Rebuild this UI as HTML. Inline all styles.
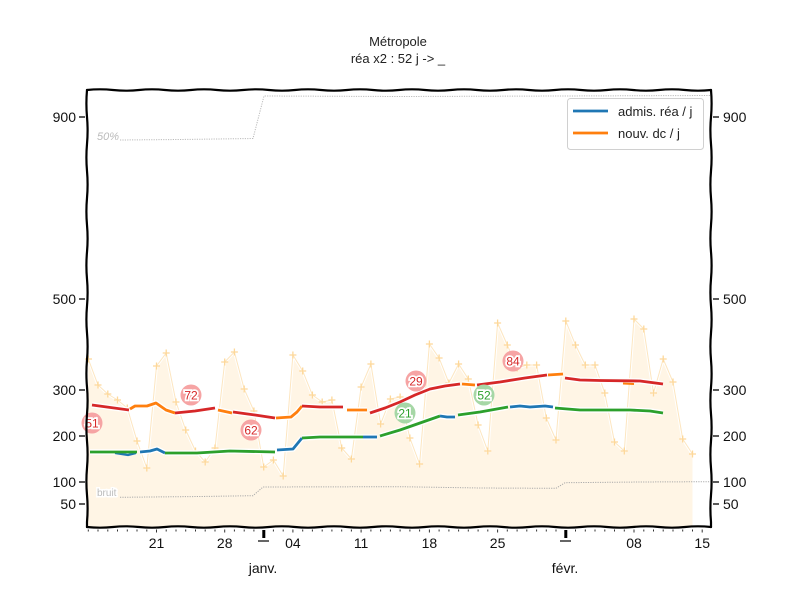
<!DOCTYPE html>
<html><head><meta charset="utf-8"><style>
html,body{margin:0;padding:0;background:#fff;}
svg{display:block;}
.t{font-family:"Liberation Sans",sans-serif;}
</style></head><body>
<svg width="800" height="600" viewBox="0 0 800 600" xmlns="http://www.w3.org/2000/svg">
<rect width="800" height="600" fill="#fff"/>
<!-- title -->
<text x="398" y="46" text-anchor="middle" class="t" font-size="13" fill="#222">Métropole</text>
<text x="398" y="63" text-anchor="middle" class="t" font-size="13" fill="#222">réa x2 : 52 j -&gt; _</text>

<!-- fill -->
<polygon fill="#fff5e5" points="87,527 88.3,359 98.0,385 107.8,394 117.5,400 127.3,408 137.0,441 146.8,468 156.5,366 166.2,353 176.0,402 185.7,430 195.5,451 205.2,462 215.0,448 224.7,362 234.4,352 244.2,389 253.9,411 263.7,467 273.4,460 283.2,476 292.9,355 302.7,371 312.4,395 322.2,402 331.9,400 341.7,448 351.4,459 361.1,387 370.9,364 380.6,424 390.4,399 400.1,397 409.9,438 419.6,464 429.4,344 439.1,358 448.9,383 458.6,364 468.3,379 478.1,425 487.8,451 497.6,323 507.3,345 517.1,368 526.8,365 536.6,365 546.3,418 556.0,440 565.8,321 575.5,345 585.3,365 595.0,365 604.8,393 614.5,442 624.3,451 634.0,319 643.8,329 653.5,393 663.2,359 673.0,382 682.7,439 692.5,454 692.5,527"/>
<polyline fill="none" stroke="#fff" stroke-width="3" stroke-linejoin="round" points="88.3,359 98.0,385 107.8,394 117.5,400 127.3,408 137.0,441 146.8,468 156.5,366 166.2,353 176.0,402 185.7,430 195.5,451 205.2,462 215.0,448 224.7,362 234.4,352 244.2,389 253.9,411 263.7,467 273.4,460 283.2,476 292.9,355 302.7,371 312.4,395 322.2,402 331.9,400 341.7,448 351.4,459 361.1,387 370.9,364 380.6,424 390.4,399 400.1,397 409.9,438 419.6,464 429.4,344 439.1,358 448.9,383 458.6,364 468.3,379 478.1,425 487.8,451 497.6,323 507.3,345 517.1,368 526.8,365 536.6,365 546.3,418 556.0,440 565.8,321 575.5,345 585.3,365 595.0,365 604.8,393 614.5,442 624.3,451 634.0,319 643.8,329 653.5,393 663.2,359 673.0,382 682.7,439 692.5,454"/>
<polyline fill="none" stroke="#fde6c0" stroke-width="1" stroke-linejoin="round" points="88.3,359 98.0,385 107.8,394 117.5,400 127.3,408 137.0,441 146.8,468 156.5,366 166.2,353 176.0,402 185.7,430 195.5,451 205.2,462 215.0,448 224.7,362 234.4,352 244.2,389 253.9,411 263.7,467 273.4,460 283.2,476 292.9,355 302.7,371 312.4,395 322.2,402 331.9,400 341.7,448 351.4,459 361.1,387 370.9,364 380.6,424 390.4,399 400.1,397 409.9,438 419.6,464 429.4,344 439.1,358 448.9,383 458.6,364 468.3,379 478.1,425 487.8,451 497.6,323 507.3,345 517.1,368 526.8,365 536.6,365 546.3,418 556.0,440 565.8,321 575.5,345 585.3,365 595.0,365 604.8,393 614.5,442 624.3,451 634.0,319 643.8,329 653.5,393 663.2,359 673.0,382 682.7,439 692.5,454"/>
<!-- markers -->
<path fill="none" stroke="#fdd89a" stroke-width="1.3" d="M85,359h7M88.3,355.5v7 M94.5,385h7M98,381.5v7 M104.3,394h7M107.8,390.5v7 M114,400h7M117.5,396.5v7 M123.8,408h7M127.3,404.5v7 M133.5,441h7M137,437.5v7 M143.3,468h7M146.8,464.5v7 M153,366h7M156.5,362.5v7 M162.7,353h7M166.2,349.5v7 M172.5,402h7M176,398.5v7 M182.2,430h7M185.7,426.5v7 M192,451h7M195.5,447.5v7 M201.7,462h7M205.2,458.5v7 M211.5,448h7M215,444.5v7 M221.2,362h7M224.7,358.5v7 M230.9,352h7M234.4,348.5v7 M240.7,389h7M244.2,385.5v7 M250.4,411h7M253.9,407.5v7 M260.2,467h7M263.7,463.5v7 M269.9,460h7M273.4,456.5v7 M279.7,476h7M283.2,472.5v7 M289.4,355h7M292.9,351.5v7 M299.2,371h7M302.7,367.5v7 M308.9,395h7M312.4,391.5v7 M318.7,402h7M322.2,398.5v7 M328.4,400h7M331.9,396.5v7 M338.2,448h7M341.7,444.5v7 M347.9,459h7M351.4,455.5v7 M357.6,387h7M361.1,383.5v7 M367.4,364h7M370.9,360.5v7 M377.1,424h7M380.6,420.5v7 M386.9,399h7M390.4,395.5v7 M396.6,397h7M400.1,393.5v7 M406.4,438h7M409.9,434.5v7 M416.1,464h7M419.6,460.5v7 M425.9,344h7M429.4,340.5v7 M435.6,358h7M439.1,354.5v7 M445.4,383h7M448.9,379.5v7 M455.1,364h7M458.6,360.5v7 M464.8,379h7M468.3,375.5v7 M474.6,425h7M478.1,421.5v7 M484.3,451h7M487.8,447.5v7 M494.1,323h7M497.6,319.5v7 M503.8,345h7M507.3,341.5v7 M513.6,368h7M517.1,364.5v7 M523.3,365h7M526.8,361.5v7 M533.1,365h7M536.6,361.5v7 M542.8,418h7M546.3,414.5v7 M552.5,440h7M556,436.5v7 M562.3,321h7M565.8,317.5v7 M572,345h7M575.5,341.5v7 M581.8,365h7M585.3,361.5v7 M591.5,365h7M595,361.5v7 M601.3,393h7M604.8,389.5v7 M611,442h7M614.5,438.5v7 M620.8,451h7M624.3,447.5v7 M630.5,319h7M634,315.5v7 M640.3,329h7M643.8,325.5v7 M650,393h7M653.5,389.5v7 M659.7,359h7M663.2,355.5v7 M669.5,382h7M673,378.5v7 M679.2,439h7M682.7,435.5v7 M689,454h7M692.5,450.5v7"/>

<!-- 50% and bruit lines -->
<polyline fill="none" stroke="#bbb" stroke-width="1" stroke-dasharray="1.2,1.2" points="120,140 180,139.5 253,138.5 264,96 400,96.5 560,96 711,95.5"/>
<text x="97" y="140" class="t" font-size="11" fill="#bbb" font-style="italic">50%</text>
<polyline fill="none" stroke="#aaa" stroke-width="1" stroke-dasharray="1.2,1.2" points="120,497.3 200,496.5 253,495.7 263,487 400,486.7 480,488 556,488.3 565,482.7 640,482 711,481.7"/>
<text x="97" y="496" class="t" font-size="10" fill="#bbb" stroke="#fff" stroke-width="3" paint-order="stroke">bruit</text>

<!-- top line (red / orange) -->
<g fill="none" stroke-linejoin="round" stroke-linecap="butt">
<g stroke="#fff" stroke-width="5.5">
<polyline points="92,405 129,410"/>
<polyline points="130,409 135,406 147,406 156,403 166,410 175,413"/>
<polyline points="175,413 195,411 215,408"/>
<polyline points="218,410 232,413"/>
<polyline points="233,412 255,415 275,418"/>
<polyline points="276,418 291,417 297,412 302,406"/>
<polyline points="302,406 320,407 343,407"/>
<polyline points="347,410 367,410"/>
<polyline points="370,413 385,408 400,402 415,395 430,389 445,386 460,384"/>
<polyline points="462,384 475,385"/>
<polyline points="477,385 500,382 525,378 547,375"/>
<polyline points="548,375 563,374"/>
<polyline points="565,378 580,380 600,380.5 640,381 663,384"/>
<polyline points="90,452 137,452"/>
<polyline points="140,452 150,451 157,449 165,453"/>
<polyline points="165,453 197,453 230,451 275,452"/>
<polyline points="277,450 293,449 302,438"/>
<polyline points="302,438 320,437 363,437"/>
<polyline points="363,437 377,437"/>
<polyline points="380,436 400,430 420,423 440,416"/>
<polyline points="440,416 447,417 455,417"/>
<polyline points="458,415 480,412 508,407"/>
<polyline points="510,407 520,406 530,407 545,406 553,407"/>
<polyline points="555,408 580,410 600,410 630,410 650,411 663,413"/>
</g>
<g stroke-width="2.8">
<polyline stroke="#d62728" points="92,405 129,410"/>
<polyline stroke="#ff7f0e" points="130,409 135,406 147,406 156,403 166,410 175,413"/>
<polyline stroke="#d62728" points="175,413 195,411 215,408"/>
<polyline stroke="#ff7f0e" points="218,410 232,413"/>
<polyline stroke="#d62728" points="233,412 255,415 275,418"/>
<polyline stroke="#ff7f0e" points="276,418 291,417 297,412 302,406"/>
<polyline stroke="#d62728" points="302,406 320,407 343,407"/>
<polyline stroke="#ff7f0e" points="347,410 367,410"/>
<polyline stroke="#d62728" points="370,413 385,408 400,402 415,395 430,389 445,386 460,384"/>
<polyline stroke="#ff7f0e" points="462,384 475,385"/>
<polyline stroke="#d62728" points="477,385 500,382 525,378 547,375"/>
<polyline stroke="#ff7f0e" points="548,375 563,374"/>
<polyline stroke="#ff7f0e" stroke-width="2" points="623,383.5 634,384"/>
<polyline stroke="#d62728" points="565,378 580,380 600,380.5 640,381 663,384"/>
<polyline stroke="#1f77b4" stroke-width="2.2" points="115,453 128,455 136,453"/>
<polyline stroke="#2ca02c" points="90,452 137,452"/>
<polyline stroke="#1f77b4" points="140,452 150,451 157,449 165,453"/>
<polyline stroke="#2ca02c" points="165,453 197,453 230,451 275,452"/>
<polyline stroke="#1f77b4" points="277,450 293,449 302,438"/>
<polyline stroke="#2ca02c" points="302,438 320,437 363,437"/>
<polyline stroke="#1f77b4" points="363,437 377,437"/>
<polyline stroke="#2ca02c" points="380,436 400,430 420,423 440,416"/>
<polyline stroke="#1f77b4" points="440,416 447,417 455,417"/>
<polyline stroke="#2ca02c" points="458,415 480,412 508,407"/>
<polyline stroke="#1f77b4" points="510,407 520,406 530,407 545,406 553,407"/>
<polyline stroke="#2ca02c" points="555,408 580,410 600,410 630,410 650,411 663,413"/>
</g>
</g>

<!-- annotation circles -->
<g class="t" font-size="12" text-anchor="middle">
<circle cx="92" cy="423" r="10.5" fill="#f6a4a4"/>
<text x="92" y="427.5" fill="#d62728" stroke="#fff" stroke-width="3.5" paint-order="stroke">51</text>
<circle cx="191" cy="395" r="10.5" fill="#f6a4a4"/>
<text x="191" y="399.5" fill="#d62728" stroke="#fff" stroke-width="3.5" paint-order="stroke">72</text>
<circle cx="251" cy="430" r="10.5" fill="#f6a4a4"/>
<text x="251" y="434.5" fill="#d62728" stroke="#fff" stroke-width="3.5" paint-order="stroke">62</text>
<circle cx="416" cy="381" r="10.5" fill="#f6a4a4"/>
<text x="416" y="385.5" fill="#d62728" stroke="#fff" stroke-width="3.5" paint-order="stroke">29</text>
<circle cx="405" cy="413" r="10.5" fill="#a6d7a6"/>
<text x="405" y="417.5" fill="#2ca02c" stroke="#fff" stroke-width="3.5" paint-order="stroke">21</text>
<circle cx="484" cy="395" r="10.5" fill="#a6d7a6"/>
<text x="484" y="399.5" fill="#2ca02c" stroke="#fff" stroke-width="3.5" paint-order="stroke">52</text>
<circle cx="513" cy="361" r="10.5" fill="#f6a4a4"/>
<text x="513" y="365.5" fill="#d62728" stroke="#fff" stroke-width="3.5" paint-order="stroke">84</text>
</g>

<!-- legend -->
<rect x="567.5" y="98.5" width="136" height="51" rx="3" fill="#fff" fill-opacity="0.85" stroke="#d0d0d0" stroke-width="1"/>
<line x1="573" y1="111" x2="608" y2="111" stroke="#1f77b4" stroke-width="2.8"/>
<line x1="573" y1="133" x2="608" y2="133" stroke="#ff7f0e" stroke-width="2.8"/>
<text x="618" y="116" class="t" font-size="13" fill="#222">admis. réa / j</text>
<text x="618" y="138" class="t" font-size="13" fill="#222">nouv. dc / j</text>

<!-- frame -->
<g fill="none" stroke="#000" stroke-width="2.2" stroke-linecap="round">
<path d="M87,90 Q100,88.6 113,90 t26,0 t26,0 t26,0 t26,0 t26,0 t26,0 t26,0 t26,0 t26,0 t26,0 t26,0 t26,0 t26,0 t26,0 t26,0 t26,0 t26,0 t26,0 t26,0 t26,0 t26,0 t26,0 t26,0"/>
<path d="M87,527 Q100,528.4 113,527 t26,0 t26,0 t26,0 t26,0 t26,0 t26,0 t26,0 t26,0 t26,0 t26,0 t26,0 t26,0 t26,0 t26,0 t26,0 t26,0 t26,0 t26,0 t26,0 t26,0 t26,0 t26,0 t26,0"/>
<path d="M87,90 Q85.8,103.5 87,117 t0,27 t0,27 t0,27 t0,27 t0,27 t0,27 t0,27 t0,27 t0,27 t0,27 t0,27 t0,27 t0,27 t0,27 t0,27 L87,527"/>
<path d="M711,90 Q712.2,103.5 711,117 t0,27 t0,27 t0,27 t0,27 t0,27 t0,27 t0,27 t0,27 t0,27 t0,27 t0,27 t0,27 t0,27 t0,27 t0,27 L711,527"/>
</g>

<!-- y ticks -->
<g stroke="#000" stroke-width="1.3">
<line x1="79" y1="117" x2="85" y2="117"/><line x1="79" y1="299" x2="85" y2="299"/>
<line x1="79" y1="390" x2="85" y2="390"/><line x1="79" y1="436" x2="85" y2="436"/>
<line x1="79" y1="482" x2="85" y2="482"/><line x1="79" y1="504" x2="85" y2="504"/>
<line x1="713" y1="117" x2="719" y2="117"/><line x1="713" y1="299" x2="719" y2="299"/>
<line x1="713" y1="390" x2="719" y2="390"/><line x1="713" y1="436" x2="719" y2="436"/>
<line x1="713" y1="482" x2="719" y2="482"/><line x1="713" y1="504" x2="719" y2="504"/>
</g>
<g class="t" font-size="14" fill="#111">
<text x="76" y="122" text-anchor="end">900</text>
<text x="76" y="304" text-anchor="end">500</text>
<text x="76" y="395" text-anchor="end">300</text>
<text x="76" y="441" text-anchor="end">200</text>
<text x="76" y="487" text-anchor="end">100</text>
<text x="76" y="509" text-anchor="end">50</text>
<text x="723" y="122">900</text>
<text x="723" y="304">500</text>
<text x="723" y="395">300</text>
<text x="723" y="441">200</text>
<text x="723" y="487">100</text>
<text x="723" y="509">50</text>
</g>

<!-- x ticks -->
<path fill="none" stroke="#333" stroke-width="1" d="M88.3,529.5v2 M98,529.5v2 M107.8,529.5v2 M117.5,529.5v2 M127.3,529.5v2 M137,529.5v2 M146.8,529.5v2 M156.5,529.5v3 M166.2,529.5v2 M176,529.5v2 M185.7,529.5v2 M195.5,529.5v2 M205.2,529.5v2 M215,529.5v2 M224.7,529.5v3 M234.4,529.5v2 M244.2,529.5v2 M253.9,529.5v2 M273.4,529.5v2 M283.2,529.5v2 M292.9,529.5v3 M302.7,529.5v2 M312.4,529.5v2 M322.2,529.5v2 M331.9,529.5v2 M341.7,529.5v2 M351.4,529.5v2 M361.1,529.5v3 M370.9,529.5v2 M380.6,529.5v2 M390.4,529.5v2 M400.1,529.5v2 M409.9,529.5v2 M419.6,529.5v2 M429.4,529.5v3 M439.1,529.5v2 M448.9,529.5v2 M458.6,529.5v2 M468.3,529.5v2 M478.1,529.5v2 M487.8,529.5v2 M497.6,529.5v3 M507.3,529.5v2 M517.1,529.5v2 M526.8,529.5v2 M536.6,529.5v2 M546.3,529.5v2 M556,529.5v2 M575.5,529.5v2 M585.3,529.5v2 M595,529.5v2 M604.8,529.5v2 M614.5,529.5v2 M624.3,529.5v2 M634,529.5v3 M643.8,529.5v2 M653.5,529.5v2 M663.2,529.5v2 M673,529.5v2 M682.7,529.5v2 M692.5,529.5v2 M702.2,529.5v3"/>
<rect x="262.3" y="530" width="3" height="8" fill="#000"/>
<line x1="258" y1="541" x2="269" y2="541" stroke="#000" stroke-width="1.2"/>
<rect x="564.3" y="530" width="3" height="8" fill="#000"/>
<line x1="560" y1="541" x2="571" y2="541" stroke="#000" stroke-width="1.2"/>
<g class="t" font-size="14" fill="#111" text-anchor="middle">
<text x="156.5" y="548">21</text>
<text x="224.7" y="548">28</text>
<text x="292.9" y="548">04</text>
<text x="361.1" y="548">11</text>
<text x="429.4" y="548">18</text>
<text x="497.6" y="548">25</text>
<text x="634" y="548">08</text>
<text x="702.2" y="548">15</text>
<text x="263" y="573">janv.</text>
<text x="565" y="573">févr.</text>
</g>
</svg>
</body></html>
